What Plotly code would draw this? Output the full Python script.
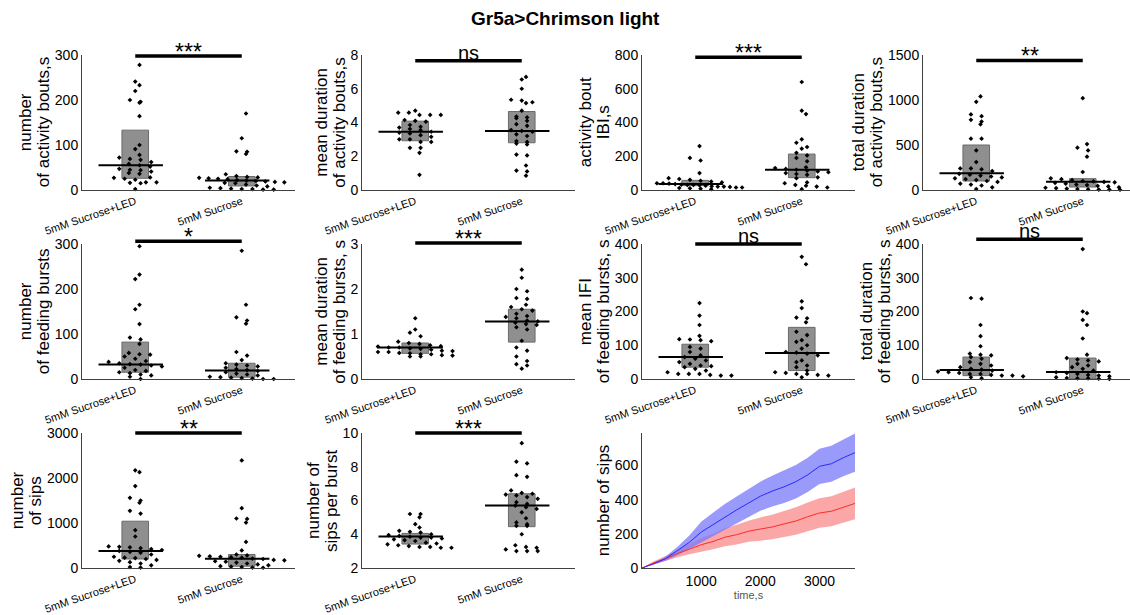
import plotly.graph_objects as go

groups = ["5mM Sucrose+LED", "5mM Sucrose"]
cats = [1, 2]

# ---- panel data ----
act_n_led = [278, 241, 233, 220, 200, 196, 194, 164, 100, 91, 78, 72, 69, 67, 62, 58, 55, 52, 47, 45,
             44, 41, 38, 36, 28, 27, 25, 23, 17, 17, 16, 15, 2]
act_n_suc = [170, 115, 86, 85, 80, 35, 31, 29, 28, 27, 26, 25, 24, 22, 21, 20, 19, 18, 17, 16, 15, 12,
             10, 8, 5, 4, 3, 2, 2, 1, 1]
act_dur_led = [4.7, 4.58, 4.58, 4.45, 4.45, 4.45, 4.15, 4.1, 4.05, 3.85, 3.75, 3.7, 3.62, 3.55, 3.45,
               3.4, 3.35, 3.25, 3.15, 3.0, 3.0, 2.85, 2.85, 2.5, 2.5, 2.2, 0.9]
act_dur_suc = [6.7, 6.55, 6.0, 5.35, 5.3, 5.2, 5.15, 4.7, 4.35, 4.3, 4.25, 4.1, 3.9, 3.8, 3.55, 3.5,
               3.45, 3.3, 3.2, 2.9, 2.85, 2.75, 2.7, 2.1, 2.05, 1.45, 1.15, 1.1, 0.85]
ibi_led = [260, 190, 175, 100, 70, 65, 60, 55, 50, 45, 40, 40, 38, 35, 32, 30, 30, 28, 25, 22, 20, 20,
           18, 15, 15, 12, 10, 8, 5]
ibi_suc = [640, 470, 450, 300, 280, 255, 245, 220, 205, 190, 170, 135, 130, 125, 120, 115, 110, 105,
           100, 95, 90, 75, 70, 45, 40, 30, 25, 20, 15, 5]
act_tot_led = [1040, 980, 840, 820, 780, 760, 730, 570, 570, 440, 310, 240, 240, 230, 210, 180, 170,
               160, 150, 140, 130, 120, 110, 100, 90, 70, 60, 50, 30, 10]
act_tot_suc = [1020, 510, 470, 440, 370, 200, 130, 120, 110, 100, 95, 90, 85, 80, 70, 60, 55, 45, 40,
               30, 25, 20, 15, 10, 8, 5, 5, 3]
fb_n_led = [295, 232, 222, 165, 155, 122, 92, 88, 78, 58, 55, 54, 50, 45, 40, 38, 35, 33, 32, 30, 28,
            25, 20, 18, 15, 13, 10, 8, 5, 0]
fb_n_suc = [285, 165, 137, 130, 123, 60, 52, 42, 35, 32, 30, 28, 25, 22, 20, 18, 15, 12, 10, 8, 5, 4,
            3, 2, 1, 0, 0]
fb_dur_led = [1.35, 1.1, 1.03, 0.95, 0.83, 0.8, 0.78, 0.75, 0.73, 0.72, 0.7, 0.7, 0.68, 0.67, 0.65,
              0.63, 0.62, 0.6, 0.6, 0.58, 0.57, 0.55, 0.55, 0.53, 0.52, 0.5, 0.5]
fb_dur_suc = [2.43, 2.25, 2.0, 1.95, 1.8, 1.78, 1.65, 1.6, 1.55, 1.52, 1.45, 1.4, 1.38, 1.35, 1.3,
              1.28, 1.25, 1.22, 1.2, 1.15, 1.1, 0.85, 0.7, 0.63, 0.5, 0.4, 0.33, 0.3, 0.23]
ifi_led = [225, 188, 160, 128, 118, 117, 115, 112, 95, 90, 80, 70, 65, 60, 55, 50, 45, 40, 38, 35, 30,
           25, 20, 15, 15, 15, 12, 10, 10]
ifi_suc = [362, 340, 230, 210, 182, 180, 168, 140, 130, 115, 110, 100, 90, 80, 78, 75, 70, 55, 50, 40,
           35, 25, 20, 18, 15, 15, 12, 10, 5]
fb_tot_led = [240, 238, 160, 127, 97, 75, 72, 70, 65, 60, 50, 45, 40, 35, 30, 28, 25, 22, 20, 18, 15,
              15, 12, 10, 10, 8, 5, 2]
fb_tot_suc = [385, 200, 195, 175, 160, 120, 72, 62, 58, 55, 52, 45, 40, 35, 30, 25, 20, 18, 15, 12, 10,
              8, 5, 3, 2, 2, 1, 0]
sips_led = [2170, 2130, 1820, 1560, 1500, 1450, 1270, 1210, 840, 700, 480, 470, 460, 440, 420, 400, 380,
            360, 340, 300, 250, 230, 220, 200, 180, 160, 130, 100, 60, 20, 10]
sips_suc = [2390, 1330, 1100, 1090, 1010, 580, 390, 300, 280, 270, 260, 250, 240, 230, 210, 200, 180,
            170, 150, 140, 120, 100, 80, 60, 40, 30, 20, 10, 5]
spb_led = [5.2, 5.2, 5.0, 4.6, 4.4, 4.2, 4.15, 4.1, 4.0, 3.95, 3.9, 3.85, 3.8, 3.8, 3.75, 3.7, 3.65, 3.6,
           3.5, 3.45, 3.4, 3.35, 3.3, 3.25, 3.25, 3.2, 3.2]
spb_suc = [9.4, 8.3, 8.2, 7.5, 7.4, 6.6, 6.45, 6.4, 6.35, 6.3, 6.2, 6.1, 5.9, 5.8, 5.7, 5.6, 5.5, 5.3,
           4.95, 4.7, 4.6, 4.5, 4.5, 4.0, 3.35, 3.25, 3.2, 3.1, 3.0, 3.0, 3.0]

# box (lower edge, upper edge) and median per group
box_lo = [[26, 9], [2.92, 2.8], [26, 73], [100, 33], [15, 4], [0.57, 0.82], [35, 25], [10, 1], [200, 40], [3.42, 4.45]]
box_hi = [[133, 30], [4.08, 4.65], [57, 213], [500, 126], [82, 35], [0.8, 1.55], [103, 153], [65, 62], [1040, 300], [4.05, 6.4]]
medians = [[55, 21], [3.45, 3.5], [35, 120], [185, 93], [32, 19], [0.70, 1.28], [65, 77], [27, 21], [380, 207], [3.86, 5.7]]

sig_labels = ["***", "ns", "***", "**", "*", "***", "ns", "ns", "**", "***"]
sig_levels = [298, 7.66, 786, 1440, 306, 3.02, 400, 414, 3000, 10]

ylabels = [("number", "of activity bouts,s"), ("mean duration", "of activity bouts,s"), ("activity bout", "IBI,s"),
           ("total duration", "of activity bouts,s"), ("number", "of feeding bursts"),
           ("mean duration", "of feeding bursts, s"), ("mean IFI", "of feeding bursts, s"),
           ("total duration", "of feeding bursts, s"), ("number", "of sips"), ("number of", "sips per burst")]
yranges = [[0, 300], [0, 8], [0, 800], [0, 1500], [0, 300], [0, 3], [0, 400], [0, 400], [0, 3000], [2, 10]]
ytickvals = [[0, 100, 200, 300], [0, 2, 4, 6, 8], [0, 200, 400, 600, 800], [0, 500, 1000, 1500],
             [0, 100, 200, 300], [0, 1, 2, 3], [0, 100, 200, 300, 400], [0, 100, 200, 300, 400],
             [0, 1000, 2000, 3000], [2, 4, 6, 8, 10]]
series = [(act_n_led, act_n_suc), (act_dur_led, act_dur_suc), (ibi_led, ibi_suc), (act_tot_led, act_tot_suc),
          (fb_n_led, fb_n_suc), (fb_dur_led, fb_dur_suc), (ifi_led, ifi_suc), (fb_tot_led, fb_tot_suc),
          (sips_led, sips_suc), (spb_led, spb_suc)]

# cumulative sips time course
time_s = [0, 200, 400, 600, 800, 1000, 1200, 1400, 1600, 1800, 2000, 2200, 2400, 2600, 2800, 3000, 3200, 3400, 3600]
sips_led_mean = [0, 25, 55, 100, 150, 210, 255, 300, 340, 380, 420, 450, 475, 505, 545, 595, 610, 645, 675]
sips_led_sem = [0, 5, 12, 25, 40, 60, 68, 75, 78, 82, 85, 90, 95, 98, 100, 103, 106, 108, 112]
sips_suc_mean = [0, 30, 55, 85, 110, 136, 155, 180, 195, 215, 228, 240, 258, 275, 300, 322, 332, 355, 378]
sips_suc_sem = [0, 10, 15, 22, 30, 40, 45, 52, 58, 62, 68, 72, 76, 80, 84, 86, 88, 90, 93]

# ---- layout geometry ----
W, H = 1130, 615
FONT = "Liberation Sans, Arial, sans-serif"
col_px = [(82, 295), (362, 575), (642, 855), (923, 1130)]
row_px = [(55, 190), (244, 379), (433, 568)]
unit_px = (col_px[0][1] - col_px[0][0]) / 2.0
DIGIT_W = 0.556 * 14


def swarm(vals, span, d=0.1, nb=27):
    binh = span / nb
    bins = {}
    for i, v in enumerate(vals):
        bins.setdefault(int(round(v / binh)), []).append(i)
    offs = [0.0] * len(vals)
    for b, idx in bins.items():
        n = len(idx)
        step = min(d, 0.8 / max(n - 1, 1))
        shift = 0.04 if (b % 2 and n % 2) else 0.0
        for k, i in enumerate(idx):
            offs[i] = (k - (n - 1) / 2.0) * step + shift
    return offs


def ytitle(lines, xa, ya, tickvals):
    tw = max(len(str(t)) for t in tickvals) * DIGIT_W
    base = -(4 + tw + 11)
    out = []
    for k, line in enumerate(reversed(lines)):
        out.append(dict(text=line, xref=f"{xa} domain", yref=f"{ya} domain", x=0, y=0.5,
                        xanchor="center", yanchor="middle", textangle=-90, showarrow=False,
                        xshift=base - 18 * k, font=dict(size=17, family=FONT, color="black")))
    return out


fig = go.Figure()
layout = dict(width=W, height=H, margin=dict(l=0, r=0, t=0, b=0), autosize=False,
              paper_bgcolor="white", plot_bgcolor="white", showlegend=False, template="none",
              font=dict(family=FONT, color="black"), shapes=[], annotations=[])

for p in range(10):
    r, c = divmod(p, 4)
    n = p + 1
    xa = "x" if n == 1 else f"x{n}"
    ya = "y" if n == 1 else f"y{n}"
    x0p, x1p = col_px[c]
    y0p, y1p = row_px[r]
    xr = [0.5, 0.5 + (x1p - x0p) / unit_px]
    yr = yranges[p]
    span = yr[1] - yr[0]
    lo, hi, md = box_lo[p], box_hi[p], medians[p]
    fig.add_trace(go.Bar(x=cats, y=[hi[0] - lo[0], hi[1] - lo[1]], base=lo, width=0.25,
                         marker=dict(color="#8f8f8f", line=dict(color="#6a6a6a", width=1)),
                         xaxis=xa, yaxis=ya, hoverinfo="skip"))
    for gi in range(2):
        vals = series[p][gi]
        offs = swarm(vals, span)
        fig.add_trace(go.Scatter(x=[cats[gi] + o for o in offs], y=vals, mode="markers",
                                 marker=dict(symbol="diamond", size=3.6, color="black"),
                                 xaxis=xa, yaxis=ya, cliponaxis=False))
        fig.add_trace(go.Scatter(x=[cats[gi] - 0.345, cats[gi] + 0.26], y=[md[gi], md[gi]], mode="lines",
                                 line=dict(color="black", width=2), xaxis=xa, yaxis=ya))
    key = "" if n == 1 else str(n)
    layout["xaxis" + key] = dict(domain=[x0p / W, x1p / W], range=xr, anchor=ya, automargin=False,
                                 tickvals=cats, ticktext=groups, tickangle=-19,
                                 tickfont=dict(size=11, family=FONT), showline=True, linecolor="#404040",
                                 linewidth=1, showgrid=False, zeroline=False, ticks="", fixedrange=True)
    layout["yaxis" + key] = dict(domain=[1 - y1p / H, 1 - y0p / H], range=yr, anchor=xa, automargin=False,
                                 tickvals=ytickvals[p], tickfont=dict(size=14, family=FONT),
                                 showline=True, linecolor="#404040", linewidth=1, showgrid=False,
                                 zeroline=False, ticks="")
    layout["annotations"].extend(ytitle(ylabels[p], xa, ya, ytickvals[p]))
    fx = lambda v: (v - xr[0]) / (xr[1] - xr[0])
    fy = (sig_levels[p] - yr[0]) / span
    layout["shapes"].append(dict(type="line", xref=f"{xa} domain", yref=f"{ya} domain",
                                 x0=fx(1), x1=fx(2), y0=fy, y1=fy, line=dict(color="black", width=3.5)))
    is_star = "*" in sig_labels[p]
    layout["annotations"].append(dict(text=sig_labels[p], xref=f"{xa} domain", yref=f"{ya} domain",
                                      x=fx(1.5), y=fy, xanchor="center", yanchor="bottom", showarrow=False,
                                      yshift=-11 if is_star else -5,
                                      font=dict(size=23 if is_star else 20, family=FONT, color="black")))

# ---- time course panel ----
x0p, x1p = col_px[2]
y0p, y1p = row_px[2]
band_specs = [(sips_suc_mean, sips_suc_sem, "rgba(250,120,120,0.65)", "#ff2a2a"),
              (sips_led_mean, sips_led_sem, "rgba(120,120,250,0.75)", "#2a2aff")]
for mean, sem, fc, lc in band_specs:
    upper = [m + s for m, s in zip(mean, sem)]
    lower = [m - s for m, s in zip(mean, sem)]
    fig.add_trace(go.Scatter(x=time_s + time_s[::-1], y=upper + lower[::-1], fill="toself",
                             fillcolor=fc, line=dict(width=0), mode="lines", xaxis="x11", yaxis="y11",
                             hoverinfo="skip"))
for mean, sem, fc, lc in band_specs:
    fig.add_trace(go.Scatter(x=time_s, y=mean, mode="lines", line=dict(color=lc, width=1),
                             xaxis="x11", yaxis="y11"))
layout["xaxis11"] = dict(domain=[x0p / W, x1p / W], range=[0, 3600], anchor="y11", automargin=False,
                         tickvals=[1000, 2000, 3000], tickfont=dict(size=14, family=FONT),
                         title=dict(text="time,s", font=dict(size=11, family=FONT, color="#555555"), standoff=2),
                         showline=True, linecolor="#404040", linewidth=1, showgrid=False, zeroline=False, ticks="")
layout["yaxis11"] = dict(domain=[1 - y1p / H, 1 - y0p / H], range=[0, 790], anchor="x11", automargin=False,
                         tickvals=[0, 200, 400, 600], tickfont=dict(size=14, family=FONT),
                         showline=True, linecolor="#404040", linewidth=1, showgrid=False, zeroline=False, ticks="")
layout["annotations"].extend(ytitle(["number of sips"], "x11", "y11", [0, 200, 400, 600]))

layout["annotations"].append(dict(text="<b>Gr5a&gt;Chrimson light</b>", xref="paper", yref="paper",
                                  x=0.5, y=1 - 18 / H, xanchor="center", yanchor="middle", showarrow=False,
                                  font=dict(size=19, family=FONT, color="black")))

fig.update_layout(**layout)
fig.write_html("out.html")
